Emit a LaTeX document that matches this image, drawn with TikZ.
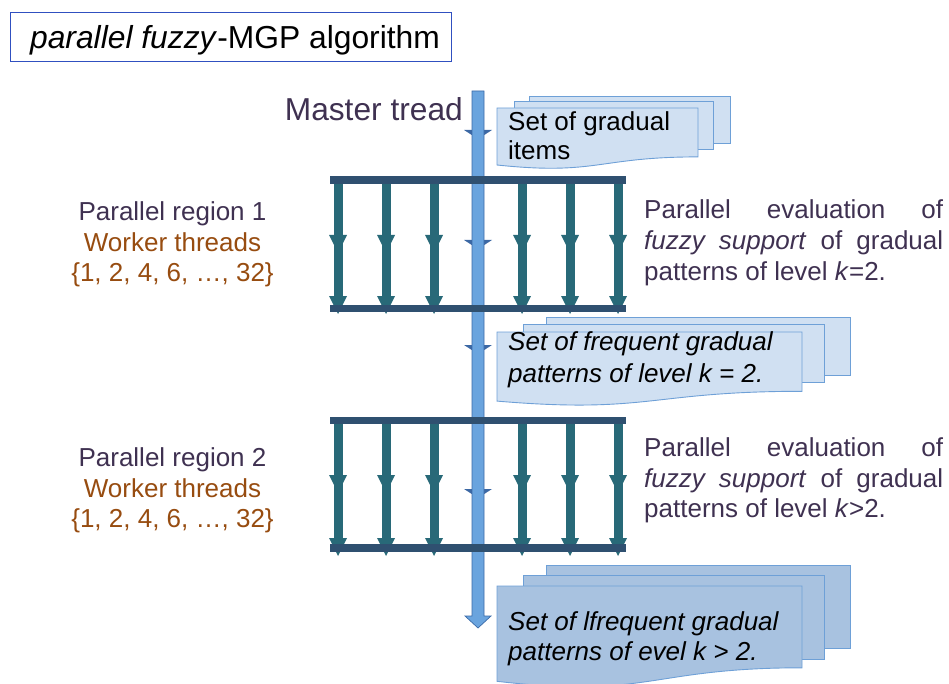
\documentclass[tikz,border=0pt]{standalone}
\usepackage{fontspec}
\setmainfont{Liberation Sans}
\definecolor{textdark}{HTML}{3F3151}
\definecolor{brownish}{HTML}{974C10}
\definecolor{bardark}{HTML}{2F5070}
\definecolor{tealc}{HTML}{286978}
\definecolor{masterfill}{HTML}{6AA4DE}
\definecolor{masterborder}{HTML}{3A6AA8}
\definecolor{headblue}{HTML}{3C68A4}
\definecolor{docfill}{HTML}{D0E0F2}
\definecolor{docfilldark}{HTML}{A8C2E0}
\definecolor{docborder}{HTML}{6EA0D7}
\definecolor{titleblue}{HTML}{3050C0}
\begin{document}
\begin{tikzpicture}[x=1pt,y=-1pt,
  lbl/.style={inner sep=0pt, font=\fontsize{26}{31}\selectfont},
  hbar/.style={fill=bardark, draw=none, minimum width=296pt, minimum height=7.5pt, inner sep=0pt},
  tealshaft/.style={draw=tealc, line width=9pt},
  sheet/.style={draw=docborder, line width=0.9pt, fill=docfill},
  sheetdark/.style={draw=docborder, line width=0.9pt, fill=docfilldark},
  tealhead/.pic={\fill[tealc] (-9,-18) -- (9,-18) -- (0,0) -- cycle;},
  smallhead/.pic={\fill[headblue] (-14,-5) -- (14,-5) -- (0,4) -- cycle;}
]
\useasboundingbox (0,0) rectangle (949,684);

% title
\node[draw=titleblue, line width=1pt, minimum width=441pt, minimum height=49pt,
      anchor=north west, inner sep=0pt, text depth=0pt,
      font=\fontsize{31.8}{38}\selectfont] (title) at (9.5,12)
  {\hspace*{9pt}\textit{parallel fuzzy}-MGP algorithm};

% master thread
\node[lbl, anchor=base east, text=textdark, font=\fontsize{31.7}{38}\selectfont] (mlabel) at (463,121) {Master tread};
\coordinate (mtop) at (478,91);
\coordinate (mend) at (478,628);
\pic at (478,135) {smallhead};
\pic at (478,245) {smallhead};
\pic at (478,350) {smallhead};
\pic at (478,494) {smallhead};
\draw[draw=masterborder, fill=masterfill, line width=0.7pt]
  ([xshift=-6pt]mtop) -- ([xshift=6pt]mtop) -- ([xshift=6pt,yshift=12pt]mend)
  -- ([xshift=13pt,yshift=12pt]mend) -- (mend) -- ([xshift=-13pt,yshift=12pt]mend)
  -- ([xshift=-6pt,yshift=12pt]mend) -- cycle;

% region coordinates
\coordinate (r1mid) at (478,253);
\coordinate (r1end) at (478,314);
\coordinate (r2mid) at (478,493);
\coordinate (r2end) at (478,556);
\coordinate (r1s) at (478,184);
\coordinate (r2s) at (478,424);

\foreach \dx in {-140,-92,-44,44,92,140}{
  \draw[tealshaft] ([xshift=\dx pt]r1s) -- ([xshift=\dx pt,yshift=10pt]r1end);
  \pic at ([xshift=\dx pt]r1mid) {tealhead};
  \pic at ([xshift=\dx pt]r1end) {tealhead};
  \draw[tealshaft] ([xshift=\dx pt]r2s) -- ([xshift=\dx pt,yshift=10pt]r2end);
  \pic at ([xshift=\dx pt]r2mid) {tealhead};
  \pic at ([xshift=\dx pt]r2end) {tealhead};
}

% horizontal bars
\node[hbar] (r1top) at (478,180) {};
\node[hbar] (r1bot) at (478,308.5) {};
\node[hbar] (r2top) at (478,420.5) {};
\node[hbar] (r2bot) at (478,548) {};

% left labels
\node[lbl, anchor=base, text=textdark] (p1) at (172.5,221) {Parallel region 1};
\node[lbl, anchor=base, text=brownish] (w1) at (172.5,252) {Worker threads};
\node[lbl, anchor=base, text=brownish] (n1) at (172.5,282) {\{1, 2, 4, 6, …, 32\}};
\node[lbl, anchor=base, text=textdark] (p2) at (172.5,466) {Parallel region 2};
\node[lbl, anchor=base, text=brownish] (w2) at (172.5,497) {Worker threads};
\node[lbl, anchor=base, text=brownish] (n2) at (172.5,527) {\{1, 2, 4, 6, …, 32\}};

% right texts
\node[lbl, anchor=base west, text=textdark] (e1a) at (644,219) {\makebox[299pt][s]{Parallel evaluation of}};
\node[lbl, anchor=base west, text=textdark] (e1b) at (644,250) {\makebox[299pt][s]{\textit{fuzzy support} of gradual}};
\node[lbl, anchor=base west, text=textdark] (e1c) at (644,280) {patterns of level \textit{k}=2.};
\node[lbl, anchor=base west, text=textdark] (e2a) at (644,456) {\makebox[299pt][s]{Parallel evaluation of}};
\node[lbl, anchor=base west, text=textdark] (e2b) at (644,487) {\makebox[299pt][s]{\textit{fuzzy support} of gradual}};
\node[lbl, anchor=base west, text=textdark] (e2c) at (644,517) {patterns of level \textit{k}>2.};

% document 1
\path[sheet] (529,96) rectangle (730,143);
\path[sheet] (514,101) rectangle (713,149);
\path[sheet] (497,108) -- (698,108) -- (698,156.9) .. controls (597.5,156.9) and (597.5,175.6) .. (497,165) -- cycle;
\node[lbl, anchor=base west, text=black] (d1a) at (508,131) {Set of gradual};
\node[lbl, anchor=base west, text=black] (d1b) at (508,160) {items};

% document 2
\path[sheet] (546,317) rectangle (850,375);
\path[sheet] (523,324) rectangle (824,382);
\path[sheet] (497,332) -- (802,332) -- (802,391.3) .. controls (649.5,391.3) and (649.5,414) .. (497,401.1) -- cycle;
\node[lbl, anchor=base west, text=black] (d2a) at (508,350) {\textit{Set of frequent gradual}};
\node[lbl, anchor=base west, text=black] (d2b) at (508,382) {\textit{patterns of level k = 2.}};

% document 3
\path[sheetdark] (546,565) rectangle (850,648);
\path[sheetdark] (523,575) rectangle (824,659);
\path[sheetdark] (497,586) -- (802,586) -- (802,667.8) .. controls (649.5,667.8) and (649.5,699) .. (497,681.3) -- cycle;
\node[lbl, anchor=base west, text=black] (d3a) at (508,630) {\textit{Set of lfrequent gradual}};
\node[lbl, anchor=base west, text=black] (d3b) at (508,660) {\textit{patterns of evel k > 2.}};
\end{tikzpicture}
\end{document}
